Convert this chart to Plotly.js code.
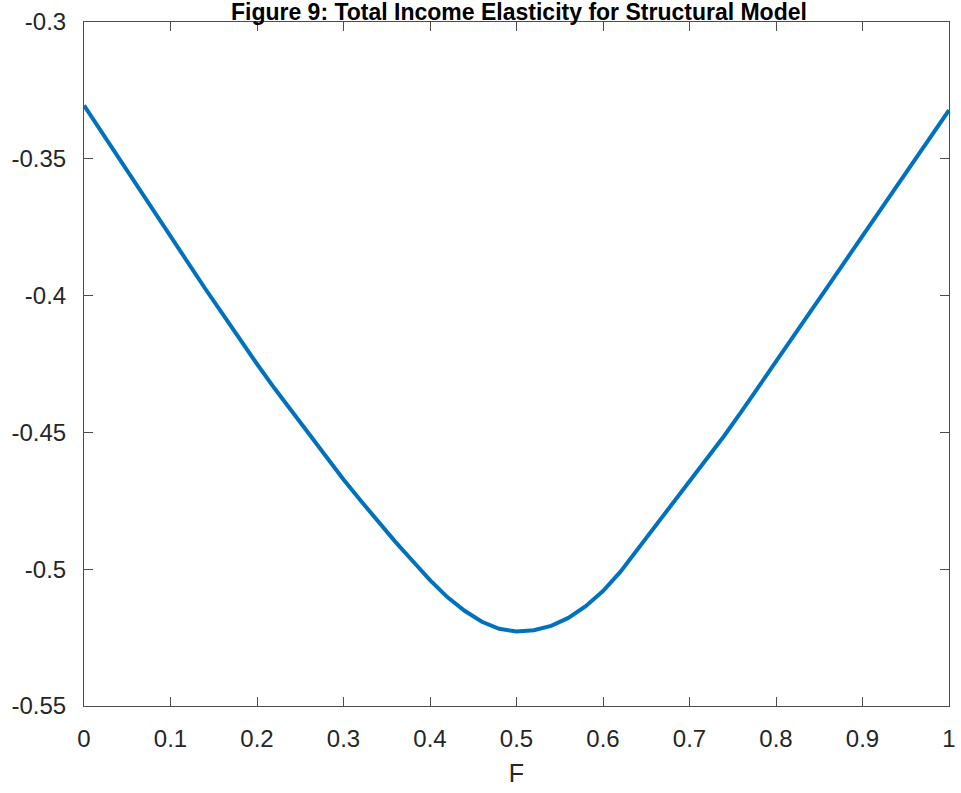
<!DOCTYPE html>
<html>
<head>
<meta charset="utf-8">
<script src="https://cdn.plot.ly/plotly-3.0.1.min.js"></script>
<style>html,body{margin:0;padding:0;background:#fff;}#chart{width:961px;height:793px;}</style>
</head>
<body>
<div id="chart"></div>
<script>
const F = [0.00,0.02,0.04,0.06,0.08,0.10,0.12,0.14,0.16,0.18,0.20,0.22,0.24,0.26,0.28,0.30,0.32,0.34,0.36,0.38,0.40,0.42,0.44,0.46,0.48,0.50,
           0.52,0.54,0.56,0.58,0.60,0.62,0.64,0.66,0.68,0.70,0.72,0.74,0.76,0.78,0.80,0.82,0.84,0.86,0.88,0.90,0.92,0.94,0.96,0.98,1.00];
const elasticity = [-0.3305,-0.3401,-0.3497,-0.3593,-0.3689,-0.3785,-0.3880,-0.3974,-0.4066,-0.4159,-0.4250,-0.4338,-0.4423,-0.4507,-0.4590,-0.4672,-0.4750,-0.4826,-0.4900,-0.4970,-0.5040,-0.5102,-0.5152,-0.5192,-0.5218,-0.5228,
           -0.5223,-0.5207,-0.5178,-0.5135,-0.5080,-0.5010,-0.4928,-0.4843,-0.4763,-0.4682,-0.4599,-0.4513,-0.4424,-0.4334,-0.4242,-0.4150,-0.4058,-0.3966,-0.3874,-0.3782,-0.3690,-0.3598,-0.3506,-0.3414,-0.3322];
const xTickVals = [0,0.1,0.2,0.3,0.4,0.5,0.6,0.7,0.8,0.9,1];
const xTickText = ["0","0.1","0.2","0.3","0.4","0.5","0.6","0.7","0.8","0.9","1"];
const yTickVals = [-0.55,-0.5,-0.45,-0.4,-0.35,-0.3];
const yTickText = ["-0.55","-0.5","-0.45","-0.4","-0.35","-0.3"];
const titleText = "Figure 9: Total Income Elasticity for Structural Model";
const xTitle = "F";

const axisCommon = {
  showline: true, mirror: 'ticks', linecolor: '#4d4d4d', linewidth: 1,
  ticks: 'inside', ticklen: 9, tickwidth: 1, tickcolor: '#4d4d4d',
  showgrid: false, zeroline: false,
  tickfont: {family: 'Liberation Sans, Arial, sans-serif', size: 24, color: '#262626'}
};

Plotly.newPlot('chart', [{
  x: F, y: elasticity, type: 'scatter', mode: 'lines',
  line: {color: '#0072BD', width: 4}, hoverinfo: 'none'
}], {
  width: 961, height: 793,
  margin: {l: 84, r: 12, t: 22, b: 87},
  paper_bgcolor: '#fff', plot_bgcolor: '#fff',
  showlegend: false,
  title: {text: '<b>' + titleText + '</b>', x: 0.54, xanchor: 'center', y: 0.985, yref: 'container', yanchor: 'middle',
          font: {family: 'Liberation Sans, Arial, sans-serif', size: 23, color: '#000'}},
  xaxis: Object.assign({}, axisCommon, {
    range: [0, 1], tickvals: xTickVals, ticktext: xTickText, ticklabelstandoff: 11,
    title: {text: xTitle, standoff: 13, font: {family: 'Liberation Sans, Arial, sans-serif', size: 25, color: '#262626'}}
  }),
  yaxis: Object.assign({}, axisCommon, {
    range: [-0.55, -0.3], tickvals: yTickVals, ticktext: yTickText, ticklabelstandoff: 12
  })
}, {staticPlot: true});
</script>
</body>
</html>
